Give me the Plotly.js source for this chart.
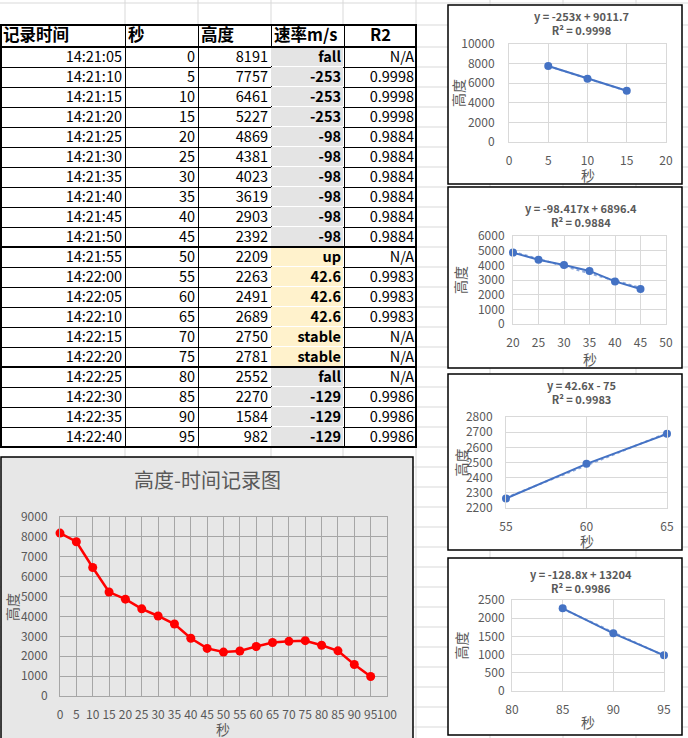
<!DOCTYPE html>
<html><head><meta charset="utf-8">
<script src="https://cdn.plot.ly/plotly-3.0.1.min.js"></script>
<style>html,body{margin:0;padding:0;background:#fff;overflow:hidden}</style>
</head><body><div id="chart" style="width:688px;height:738px"></div>
<script>
// ---------- data ----------
const headers = ['记录时间', '秒', '高度', '速率m/s', 'R2'];
const recordTimes = ['14:21:05','14:21:10','14:21:15','14:21:20','14:21:25','14:21:30','14:21:35','14:21:40','14:21:45','14:21:50',
  '14:21:55','14:22:00','14:22:05','14:22:10','14:22:15','14:22:20','14:22:25','14:22:30','14:22:35','14:22:40'];
const seconds = [0,5,10,15,20,25,30,35,40,45,50,55,60,65,70,75,80,85,90,95];
const heights = [8191,7757,6461,5227,4869,4381,4023,3619,2903,2392,2209,2263,2491,2689,2750,2781,2552,2270,1584,982];
const rates = ['fall','-253','-253','-253','-98','-98','-98','-98','-98','-98','up','42.6','42.6','42.6','stable','stable','fall','-129','-129','-129'];
const r2Values = ['N/A','0.9998','0.9998','0.9998','0.9884','0.9884','0.9884','0.9884','0.9884','0.9884','N/A','0.9983','0.9983','0.9983','N/A','N/A','N/A','0.9986','0.9986','0.9986'];
const rowPhase = ['down','down','down','down','down','down','down','down','down','down','rise','rise','rise','rise','rise','rise','down','down','down','down'];
// trend-fit segments (row index ranges) and their fitted lines
const fitStart = [1, 4, 11, 17];
const fitEnd = [3, 9, 13, 19];
const fitSlope = [-253, -98.417, 42.6, -128.8];
const fitIntercept = [9011.7, 6896.4, -75, 13204];
const fitR2 = ['0.9998', '0.9884', '0.9983', '0.9986'];

// ---------- helpers ----------
const W = 688, H = 738;
const fx = p => p / W;
const fy = p => 1 - p / H;
const FONT = '"Noto Sans CJK SC", "Noto Sans", sans-serif';
const GREY = '#595959';

const traces = [];
const shapes = [];
const annotations = [];
const layout = {
  width: W, height: H, margin: {l: 0, r: 0, t: 0, b: 0},
  paper_bgcolor: '#ffffff', plot_bgcolor: 'rgba(0,0,0,0)',
  showlegend: false, font: {family: FONT, color: GREY, size: 12},
  shapes, annotations
};

// spreadsheet gridlines
const colLines = [125, 198, 271, 343, 416, 490, 563, 636];
colLines.forEach(x => shapes.push({type: 'line', xref: 'paper', yref: 'paper', layer: 'below',
  x0: fx(x), x1: fx(x), y0: 0, y1: 1, line: {color: '#d9d9d9', width: 1}}));
const rowLines = [3, 25];
for (let y = 47; y < H; y += 20) rowLines.push(y);
rowLines.forEach(y => shapes.push({type: 'line', xref: 'paper', yref: 'paper', layer: 'below',
  x0: 0, x1: 1, y0: fy(y), y1: fy(y), line: {color: '#d9d9d9', width: 1}}));

// chart boxes
function box(x0, y0, x1, y1, fill, lw) {
  shapes.push({type: 'rect', xref: 'paper', yref: 'paper', layer: 'below',
    x0: fx(x0), x1: fx(x1), y0: fy(y1), y1: fy(y0), fillcolor: fill, line: {color: '#000', width: lw}});
}
box(0, 25, 417, 447, '#ffffff', 0);
box(1, 457, 413, 745, '#e7e7e7', 1.5);
const smallBoxes = [[448, 5, 682, 184], [448, 187, 682, 368], [448, 374, 682, 550], [448, 558, 682, 735]];
smallBoxes.forEach(b => box(b[0], b[1], b[2], b[3], '#ffffff', 1.5));

// ---------- table (drawn on its own pixel-unit axes) ----------
const colEdges = [0, 125, 198, 271, 344, 417];
const HEAD_H = 22, ROW_H = 20;
const rowEdges = [0];
for (let i = 0; i <= recordTimes.length; i++) rowEdges.push(HEAD_H + i * ROW_H);
const rowMid = recordTimes.map((_, i) => HEAD_H + i * ROW_H + ROW_H / 2 + 1);

layout.xaxis6 = {domain: [0, fx(417)], range: [0, 417], anchor: 'y6', tickvals: colEdges, showticklabels: false,
  ticks: '', showgrid: true, gridcolor: '#000', gridwidth: 1, zeroline: false, fixedrange: true};
layout.yaxis6 = {domain: [fy(447), fy(25)], range: [HEAD_H + recordTimes.length * ROW_H, 0], anchor: 'x6', tickvals: rowEdges,
  showticklabels: false, ticks: '', showgrid: true, gridcolor: '#000', gridwidth: 1, zeroline: false, fixedrange: true};

// rate column fill
traces.push({type: 'heatmap', xaxis: 'x6', yaxis: 'y6', x: [colEdges[3], colEdges[4]], y: rowEdges.slice(1),
  z: rowPhase.map(p => [p === 'rise' ? 1 : 0]), zmin: 0, zmax: 1, showscale: false, ygap: 1, xgap: 1,
  colorscale: [[0, '#e4e4e4'], [1, '#fff2cc']], hoverinfo: 'skip'});
// header
const headAlign = ['left', 'left', 'left', 'left', 'center'];
traces.push({type: 'scatter', mode: 'text', xaxis: 'x6', yaxis: 'y6', cliponaxis: false, hoverinfo: 'skip',
  x: headers.map((_, c) => headAlign[c] === 'left' ? colEdges[c] + 3 : (colEdges[c] + colEdges[c + 1]) / 2),
  y: headers.map(() => HEAD_H / 2 + 1), text: headers,
  textposition: headers.map((_, c) => headAlign[c] === 'left' ? 'middle right' : 'middle center'),
  textfont: {family: FONT, size: 16.5, color: '#000', weight: 'bold'}});
// body columns
const bodyCols = [recordTimes, seconds, heights, rates, r2Values];
bodyCols.forEach((col, c) => traces.push({type: 'scatter', mode: 'text', xaxis: 'x6', yaxis: 'y6', cliponaxis: false,
  hoverinfo: 'skip', x: col.map(() => colEdges[c + 1] - 3), y: rowMid, text: col.map(String), textposition: 'middle left',
  textfont: {family: FONT, size: 14.5, color: '#000', weight: c === 3 ? 'bold' : 'normal'}}));
// thick group borders
[25, 47, 247, 367, 447].forEach(y => shapes.push({type: 'line', xref: 'paper', yref: 'paper', layer: 'above',
  x0: 0, x1: fx(417), y0: fy(y), y1: fy(y), line: {color: '#000', width: 2}}));
[1, 416].forEach(x => shapes.push({type: 'line', xref: 'paper', yref: 'paper', layer: 'above',
  x0: fx(x), x1: fx(x), y0: fy(447), y1: fy(25), line: {color: '#000', width: 2}}));

// ---------- main chart ----------
traces.push({
  type: 'scatter', mode: 'lines+markers', x: seconds, y: heights, xaxis: 'x', yaxis: 'y',
  line: {color: '#ff0000', width: 2.5}, marker: {color: '#ff0000', size: 9}, cliponaxis: false
});
layout.xaxis = {domain: [fx(60), fx(387)], range: [0, 100], tick0: 0, dtick: 5, anchor: 'y', tickangle: 0,
  showgrid: true, gridcolor: '#a6a6a6', zeroline: false, showline: true, mirror: true, linecolor: '#a6a6a6',
  ticks: '', ticklabelstandoff: 8, tickfont: {size: 12, color: GREY, family: FONT}, fixedrange: true};
layout.yaxis = {domain: [fy(696), fy(517)], range: [0, 9000], dtick: 1000, anchor: 'x', tickformat: 'd',
  showgrid: true, gridcolor: '#a6a6a6', zeroline: false, showline: true, mirror: true, linecolor: '#a6a6a6',
  ticks: '', ticklabelstandoff: 9, tickfont: {size: 12, color: GREY, family: FONT}, fixedrange: true};
annotations.push({xref: 'paper', yref: 'paper', x: fx(207), y: fy(479), text: '高度-时间记录图', showarrow: false,
  xanchor: 'center', yanchor: 'middle', font: {size: 20, color: GREY, family: FONT}});
annotations.push({xref: 'paper', yref: 'paper', x: fx(223), y: fy(729), text: '秒', showarrow: false,
  xanchor: 'center', yanchor: 'middle', font: {size: 14, color: GREY, family: FONT}});
annotations.push({xref: 'paper', yref: 'paper', x: fx(12), y: fy(607), text: '高度', showarrow: false, textangle: -90,
  xanchor: 'center', yanchor: 'middle', font: {size: 14, color: GREY, family: FONT}});

// ---------- small trend charts ----------
const smallPlot = [
  {x: [509, 666], y: [44, 142], xr: [0, 20], yr: [0, 10000], dy: 2000, ys: 11, title: 23.5, xt: 175, yt: 458},
  {x: [513, 666], y: [236, 324], xr: [20, 50], yr: [0, 6000], dy: 1000, ys: 5, title: 215, xt: 359, yt: 460},
  {x: [506, 667], y: [417, 508], xr: [55, 65], yr: [2200, 2800], dy: 100, ys: 10, title: 392, xt: 541, yt: 460},
  {x: [512, 664], y: [600, 691], xr: [80, 95], yr: [0, 2500], dy: 500, ys: 4, title: 580.5, xt: 722, yt: 460}
];
smallPlot.forEach((p, i) => {
  const n = i + 2;
  const xs = seconds.slice(fitStart[i], fitEnd[i] + 1);
  const ys = heights.slice(fitStart[i], fitEnd[i] + 1);
  const ends = [xs[0], xs[xs.length - 1]];
  traces.push({type: 'scatter', mode: 'lines', x: ends, y: ends.map(v => fitSlope[i] * v + fitIntercept[i]),
    xaxis: 'x' + n, yaxis: 'y' + n, line: {color: '#8faadc', width: 2, dash: 'dot'}, hoverinfo: 'skip'});
  traces.push({type: 'scatter', mode: 'lines+markers', x: xs, y: ys, xaxis: 'x' + n, yaxis: 'y' + n,
    line: {color: '#4472c4', width: 2}, marker: {color: '#4472c4', size: 8}, cliponaxis: false});
  layout['xaxis' + n] = {domain: [fx(p.x[0]), fx(p.x[1])], range: p.xr, dtick: 5, anchor: 'y' + n, tickangle: 0,
    showgrid: true, gridcolor: '#d9d9d9', zeroline: false, showline: true, mirror: true, linecolor: '#d9d9d9',
    ticks: '', ticklabelstandoff: 8, tickfont: {size: 12, color: GREY, family: FONT}, fixedrange: true};
  layout['yaxis' + n] = {domain: [fy(p.y[1]), fy(p.y[0])], range: p.yr, dtick: p.dy, anchor: 'x' + n, tickformat: 'd',
    showgrid: true, gridcolor: '#d9d9d9', zeroline: false, showline: true, mirror: true, linecolor: '#d9d9d9',
    ticks: '', ticklabelstandoff: p.ys, tickfont: {size: 12, color: GREY, family: FONT}, fixedrange: true};
  const b = fitIntercept[i];
  const eq = 'y = ' + fitSlope[i] + 'x ' + (b < 0 ? '- ' : '+ ') + Math.abs(b);
  annotations.push({xref: 'paper', yref: 'paper', x: fx(581), y: fy(p.title), showarrow: false,
    text: '<b>' + eq + '</b><br><b>R² = ' + fitR2[i] + '</b>', align: 'center',
    xanchor: 'center', yanchor: 'middle', font: {size: 11, color: GREY, family: FONT}});
  annotations.push({xref: 'paper', yref: 'paper', x: fx((p.x[0] + p.x[1]) / 2), y: fy(p.xt), text: '秒', showarrow: false,
    xanchor: 'center', yanchor: 'middle', font: {size: 14, color: GREY, family: FONT}});
  annotations.push({xref: 'paper', yref: 'paper', x: fx(p.yt), y: fy((p.y[0] + p.y[1]) / 2), text: '高度', showarrow: false,
    textangle: -90, xanchor: 'center', yanchor: 'middle', font: {size: 14, color: GREY, family: FONT}});
});

Plotly.newPlot(document.getElementById('chart'), traces, layout, {staticPlot: true, displayModeBar: false});
</script></body></html>
